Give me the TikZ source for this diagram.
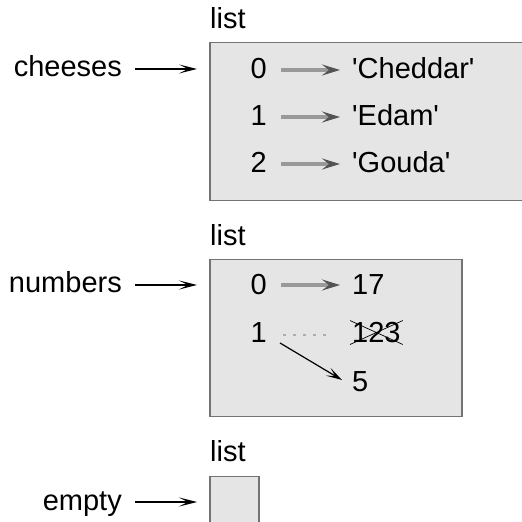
\documentclass[tikz,border=0pt]{standalone}
\usepackage{fontspec}
\setmainfont{Liberation Sans}
\usetikzlibrary{arrows.meta,positioning}
\definecolor{boxfill}{gray}{0.9}
\definecolor{boxline}{gray}{0.45}
\definecolor{ptrgray}{gray}{0.6}

\begin{document}
\begin{tikzpicture}[x=1pt,y=1pt,node distance=85pt,
	font=\fontsize{29}{34}\selectfont,
	every node/.style={inner sep=0pt},
	varname/.style={anchor=base east},
	idx/.style={anchor=base east},
	listbox/.style={draw=boxline,fill=boxfill,line width=1.5pt,anchor=north west},
	ptr/.style={-{Stealth[length=18pt,width=9pt,inset=9pt]},line width=1.1pt,
		shorten <=13pt,shorten >=12pt},
	elem/.style={-{Stealth[length=18pt,width=11pt,inset=7pt,color=gray!65!black]},
		color=ptrgray,line width=4pt,shorten <=14pt,shorten >=12pt},
	gone/.style={draw=ptrgray!80,line width=2pt,dash pattern=on 3pt off 7pt},
	]
	\useasboundingbox (0,0) rectangle (522,522);

	% cheeses
	\node[listbox,minimum width=320pt,minimum height=158pt] (cheeselist) at (209,480) {};
	\node[anchor=base west] at ([xshift=1pt,yshift=13pt]cheeselist.north west) {list};
	\node[varname] (cheeses) at (122,445) {cheeses};

	\node[idx] (c0) at (267,443) {0};
	\node[idx] (c1) at (267,396) {1};
	\node[idx] (c2) at (267,349) {2};
	\node[base right=of c0] (s0) {\textquotesingle Cheddar\textquotesingle};
	\node[base right=of c1] (s1) {\textquotesingle Edam\textquotesingle};
	\node[base right=of c2] (s2) {\textquotesingle Gouda\textquotesingle};

	% numbers
	\node[listbox,minimum width=252pt,minimum height=157pt] (numberlist) at (209,263) {};
	\node[anchor=base west] at ([xshift=1pt,yshift=13pt]numberlist.north west) {list};
	\node[varname] (numbers) at (122,229) {numbers};

	\node[idx] (n0) at (267,227) {0};
	\node[idx] (n1) at (267,179) {1};
	\node[base right=of n0] (v0) {17};
	\node[base right=of n1] (old) {123};
	\node[anchor=base west] (v1) at (352,130) {5};

	% empty
	\node[listbox,minimum width=49pt,minimum height=50pt] (emptylist) at (209,46) {};
	\node[anchor=base west] at ([xshift=1pt,yshift=14pt]emptylist.north west) {list};
	\node[varname] (empty) at (122,12) {empty};


	\path[ptr]
	([yshift=8pt]cheeses.base east) edge ([yshift=8pt]cheeses.base east -| cheeselist.west)
	([yshift=8pt]numbers.base east) edge ([yshift=8pt]numbers.base east -| numberlist.west)
	([yshift=8pt]empty.base east) edge ([yshift=8pt]empty.base east -| emptylist.west);

	\path[elem]
	([yshift=9pt]c0.base east) edge ([yshift=9pt]s0.base west)
	([yshift=9pt]c1.base east) edge ([yshift=9pt]s1.base west)
	([yshift=9pt]c2.base east) edge ([yshift=9pt]s2.base west)
	([yshift=10pt]n0.base east) edge ([yshift=10pt]v0.base west);

	\draw[gone,shorten <=16pt,shorten >=20pt] ([yshift=8pt]n1.base east) -- ([yshift=8pt]old.base west);
	\draw[line width=0.7pt] ([shift={(-2pt,2pt)}]old.north west) -- ([shift={(2pt,-1pt)}]old.south east)
		([shift={(-2pt,-1pt)}]old.south west) -- ([shift={(2pt,2pt)}]old.north east);

	\draw[-{Stealth[length=16pt,width=9pt,inset=8pt]},line width=1.2pt]
		([xshift=13pt]n1.base east) -- ([xshift=-10pt,yshift=12pt]v1.base west);

\end{tikzpicture}
\end{document}
